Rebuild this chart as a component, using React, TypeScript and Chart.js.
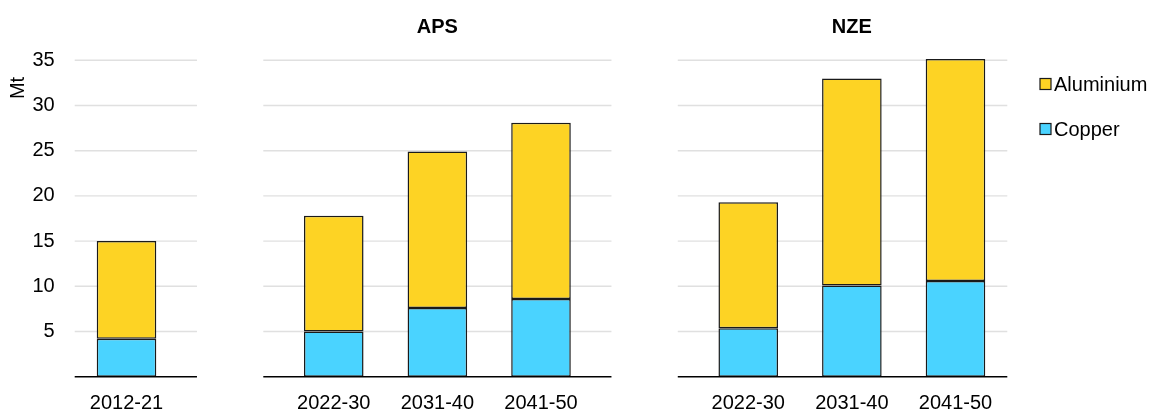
import React, { useEffect, useRef } from "react";
import { Chart, registerables } from "chart.js";

Chart.register(...registerables);

const categories = ["2012-21", "", "2022-30", "2031-40", "2041-50", "", "2022-30", "2031-40", "2041-50"];
const copper = [4.2, null, 5.0, 7.6, 8.6, null, 5.35, 10.1, 10.6];
const aluminium = [10.8, null, 12.8, 17.3, 19.5, null, 13.95, 22.9, 24.55];
const yTicks = [5, 10, 15, 20, 25, 30, 35];
const panelTitles = [
  { label: "APS", index: 3 },
  { label: "NZE", index: 7 },
];
const gapIndices = [1, 5];

const FONT = "'Liberation Sans', Arial, sans-serif";
const FS = 20;
const YELLOW = "#FDD324";
const BLUE = "#4AD3FF";
const BORDER = "#1a1a1a";

const panelPlugin = {
  id: "panelPlugin",
  beforeDatasetsDraw(chart: any) {
    const { ctx, scales } = chart;
    const x = scales.x;
    const y = scales.y;
    const w = x.getPixelForValue(1) - x.getPixelForValue(0);
    const gh = w * 0.32;
    const n = categories.length;
    const segs: [number, number][] = [];
    let start = x.getPixelForValue(0) - w / 2;
    gapIndices.forEach((g) => {
      segs.push([start, x.getPixelForValue(g) - gh]);
      start = x.getPixelForValue(g) + gh;
    });
    segs.push([start, x.getPixelForValue(n - 1) + w / 2]);
    chart.$segs = segs;
    ctx.save();
    ctx.strokeStyle = "#e0e0e0";
    ctx.lineWidth = 1.4;
    yTicks.forEach((v) => {
      const py = y.getPixelForValue(v);
      segs.forEach(([a, b]) => {
        ctx.beginPath();
        ctx.moveTo(a, py);
        ctx.lineTo(b, py);
        ctx.stroke();
      });
    });
    ctx.restore();
  },
  afterDatasetsDraw(chart: any) {
    const { ctx, scales } = chart;
    const x = scales.x;
    const y = scales.y;
    const segs = chart.$segs || [];
    ctx.save();
    ctx.strokeStyle = "#000";
    ctx.lineWidth = 1.5;
    const py = y.getPixelForValue(0);
    segs.forEach(([a, b]: [number, number]) => {
      ctx.beginPath();
      ctx.moveTo(a, py);
      ctx.lineTo(b, py);
      ctx.stroke();
    });
    // panel titles
    ctx.fillStyle = "#000";
    ctx.font = `bold ${FS}px ${FONT}`;
    ctx.textAlign = "center";
    ctx.textBaseline = "middle";
    panelTitles.forEach((t) => {
      ctx.fillText(t.label, x.getPixelForValue(t.index), 27);
    });
    // axis title
    ctx.save();
    ctx.translate(18, 88);
    ctx.rotate(-Math.PI / 2);
    ctx.font = `${FS}px ${FONT}`;
    ctx.fillText("Mt", 0, 0);
    ctx.restore();
    // legend
    const items = [...chart.data.datasets].reverse();
    ctx.textAlign = "left";
    ctx.font = `${FS}px ${FONT}`;
    items.forEach((ds: any, i: number) => {
      const cy = 84 + i * 45;
      ctx.fillStyle = ds.backgroundColor;
      ctx.fillRect(1040, cy - 5.5, 11, 11);
      ctx.strokeStyle = BORDER;
      ctx.lineWidth = 1.2;
      ctx.strokeRect(1040, cy - 5.5, 11, 11);
      ctx.fillStyle = "#000";
      ctx.fillText(ds.label, 1054, cy + 1);
    });
    ctx.restore();
  },
};

export default function App() {
  const ref = useRef<HTMLCanvasElement>(null);
  useEffect(() => {
    if (!ref.current) return;
    const common = {
      borderColor: BORDER,
      borderWidth: 1.5,
      borderSkipped: false,
      barPercentage: 0.575,
      categoryPercentage: 1,
      clip: false as any,
    };
    const chart = new Chart(ref.current, {
      type: "bar",
      data: {
        labels: categories,
        datasets: [
          { label: "Copper", data: copper as any, backgroundColor: BLUE, ...common },
          { label: "Aluminium", data: aluminium as any, backgroundColor: YELLOW, ...common },
        ],
      },
      options: {
        animation: false,
        responsive: false,
        layout: { padding: { left: 0, right: 143.7, top: 60.3, bottom: 0 } },
        plugins: { legend: { display: false }, tooltip: { enabled: false } },
        scales: {
          x: {
            stacked: true,
            offset: true,
            grid: { display: false, drawTicks: false },
            border: { display: false },
            ticks: { color: "#000", font: { family: FONT, size: FS }, padding: 15, autoSkip: false, maxRotation: 0 },
            afterFit: (s: any) => {
              s.height = 35.3;
            },
          },
          y: {
            stacked: true,
            min: 0,
            max: 35,
            grid: { display: false, drawTicks: false },
            border: { display: false },
            ticks: {
              stepSize: 5,
              color: "#000",
              font: { family: FONT, size: FS },
              padding: 20,
              callback: (v: any) => (v === 0 ? "" : String(v)),
            },
            afterFit: (s: any) => {
              s.width = 74.7;
            },
          },
        },
      },
      plugins: [panelPlugin],
    });
    return () => chart.destroy();
  }, []);
  return (
    <div style={{ position: "fixed", left: 0, top: 0, width: 1151, height: 412, background: "#fff" }}>
      <canvas ref={ref} width={1151} height={412} style={{ width: 1151, height: 412 }} />
    </div>
  );
}
